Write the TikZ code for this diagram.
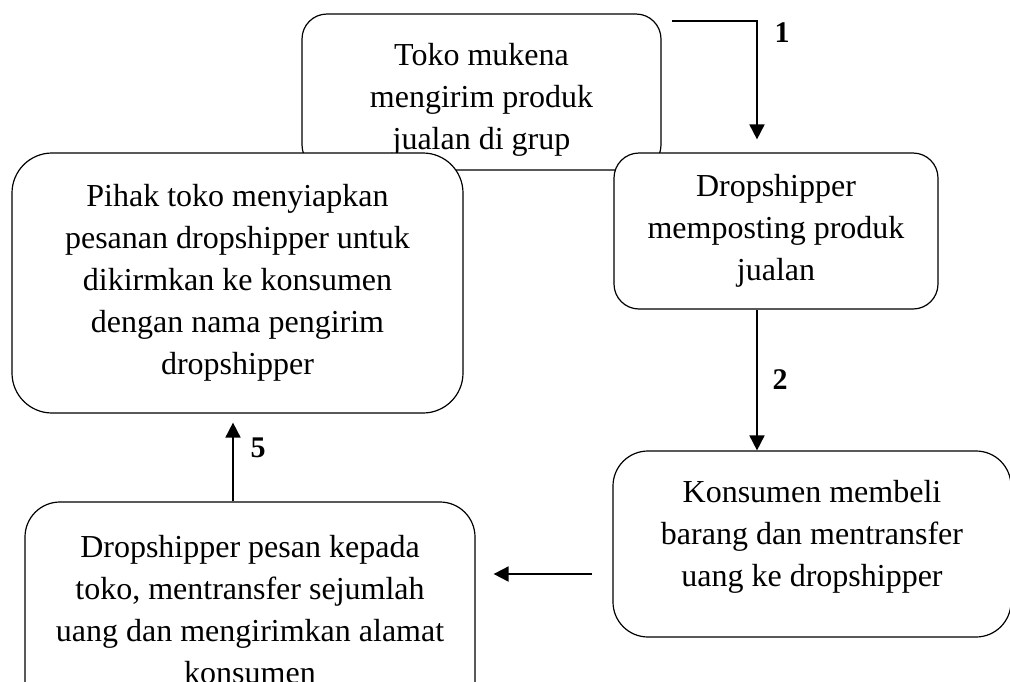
\documentclass[tikz,border=0pt]{standalone}
\usepackage{fontspec}
\setmainfont{Liberation Serif}
\usetikzlibrary{arrows.meta}

\tikzset{
  boite/.style={draw, fill=white, rounded corners=#1, line width=1.2pt, align=center},
  fleche/.style={line width=1.8pt, -{Triangle[length=15pt,width=15pt]}},
  numero/.style={font=\fontsize{30}{36}\selectfont\bfseries}
}

\begin{document}
\begin{tikzpicture}[x=1pt, y=-1pt, font=\fontsize{32}{42}\selectfont]
  \useasboundingbox (0,0) rectangle (1010,681);

  % Boite du haut
  \node[boite=25pt, minimum width=359pt, minimum height=156pt] (toko) at (481.5,92)
    {\rule{0pt}{38pt}Toko mukena\\mengirim produk\\jualan di grup};

  % Boite de gauche
  \node[boite=40pt, minimum width=451pt, minimum height=260pt] (pihak) at (237.5,283)
    {Pihak toko menyiapkan\\pesanan dropshipper untuk\\dikirmkan ke konsumen\\dengan nama pengirim\\dropshipper};

  % Boite de droite
  \node[boite=25pt, minimum width=324pt, minimum height=156pt] (posting) at (776,231)
    {Dropshipper\\memposting produk\\jualan};

  % Konsumen
  \node[boite=35pt, minimum width=398pt, minimum height=186pt] (konsumen) at (812,544)
    {Konsumen membeli\\barang dan mentransfer\\uang ke dropshipper\rule[-21pt]{0pt}{21pt}};

  % Boite du bas
  \node[boite=35pt, minimum width=450pt, minimum height=216pt] (pesan) at (250,610)
    {Dropshipper pesan kepada\\toko, mentransfer sejumlah\\uang dan mengirimkan alamat\\konsumen};

  % Fleche 1
  \coordinate (depart) at (672,21);
  \draw[fleche] (depart) -| ([xshift=-19pt,yshift=13pt]posting.north);
  \node[numero] (n1) at (782,33) {1};

  % Fleche 2
  \draw[fleche] ([xshift=-19pt]posting.south) -- ([xshift=-55pt]konsumen.north);
  \node[numero] (n2) at (780,380) {2};

  % Fleche vers la gauche
  \draw[fleche] ([xshift=-20pt,yshift=-30pt]konsumen.west) -- ([xshift=18pt,yshift=36pt]pesan.east);

  % Fleche 5
  \draw[fleche] ([xshift=-17pt]pesan.north) -- ([xshift=-4.5pt,yshift=-9pt]pihak.south);
  \node[numero] (n5) at (258,448) {5};
\end{tikzpicture}
\end{document}
